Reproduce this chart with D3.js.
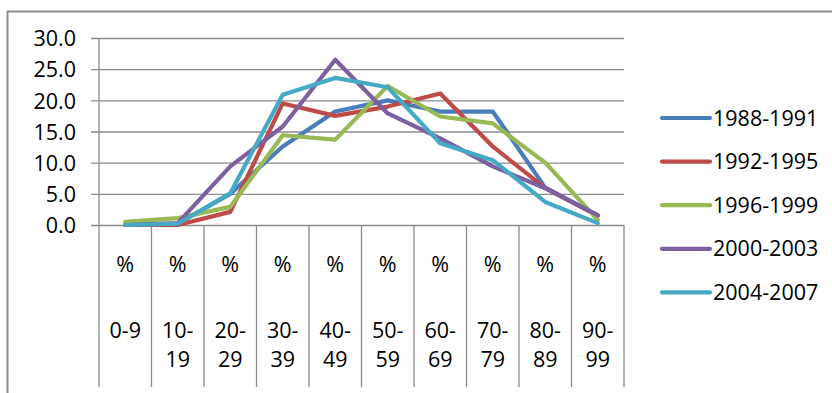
<!DOCTYPE html>
<html>
<head>
<meta charset="utf-8">
<script src="https://cdn.jsdelivr.net/npm/d3@7"></script>
<style>
  html, body { margin: 0; padding: 0; background: #fff; }
  svg { display: block; }
  text { font-family: "Open Sans", "Liberation Sans", sans-serif; fill: #000; }
</style>
</head>
<body>
<svg id="chart" width="832" height="393"></svg>
<script>
// Age-group brackets on the x axis
const categories = ["0-9", "10-19", "20-29", "30-39", "40-49", "50-59", "60-69", "70-79", "80-89", "90-99"];

// Share of cases (%) per age group, one array per period
const s1988 = [0.0, 0.2, 5.0, 12.6, 18.2, 20.0, 18.2, 18.2, 6.0, 1.5];
const s1992 = [0.0, 0.0, 2.1, 19.5, 17.5, 19.0, 21.1, 12.6, 5.9, 1.5];
const s1996 = [0.5, 1.1, 2.9, 14.4, 13.7, 22.3, 17.4, 16.3, 10.0, 0.8];
const s2000 = [0.0, 0.3, 9.4, 15.8, 26.5, 17.9, 13.9, 9.4, 5.9, 1.6];
const s2004 = [0.0, 0.2, 5.1, 20.9, 23.6, 22.1, 13.1, 10.4, 3.7, 0.3];

const seriesNames = ["1988-1991", "1992-1995", "1996-1999", "2000-2003", "2004-2007"];
const seriesValues = [s1988, s1992, s1996, s2000, s2004];
const seriesColors = ["#4a7ebb", "#be4b48", "#98b954", "#7d60a0", "#46aac5"];

const yTicks = [0, 5, 10, 15, 20, 25, 30];

const svg = d3.select("#chart");
const gridColor = "#8c8c8c";
const fontSize = "21.5px";

// Outer chart frame
svg.append("rect")
  .attr("x", 7.5).attr("y", 11.5)
  .attr("width", 840).attr("height", 400)
  .attr("fill", "none").attr("stroke", "#8c8c8c").attr("stroke-width", 2);

const plot = { left: 99, right: 624, top: 38, bottom: 225 };

const x = d3.scaleBand().domain(categories).range([plot.left, plot.right]).padding(0);
const y = d3.scaleLinear().domain([0, 30]).range([plot.bottom, plot.top]);

// Horizontal gridlines with left tick marks and labels
const yAxis = d3.axisLeft(y)
  .tickValues(yTicks)
  .tickFormat(d3.format(".1f"))
  .tickSize(-(plot.right - plot.left))
  .tickPadding(23);

const gy = svg.append("g")
  .attr("transform", `translate(${plot.left},0)`)
  .call(yAxis);
gy.select(".domain").remove();
gy.selectAll(".tick line")
  .attr("x1", -8)
  .attr("stroke", gridColor).attr("stroke-width", 1.3);
gy.selectAll(".tick text")
  .style("font-size", fontSize)
  .attr("dy", "0.36em");

// Vertical category dividers running down through the label area
const bounds = categories.map(c => x(c)).concat([plot.right]);
svg.append("g").selectAll("line")
  .data(bounds)
  .join("line")
  .attr("x1", d => d).attr("x2", d => d)
  .attr("y1", d => d === plot.left ? plot.top : plot.bottom)
  .attr("y2", 387)
  .attr("stroke", gridColor).attr("stroke-width", 1.3);

// Category labels: "%" on top, age range split across two lines below
const labels = svg.append("g").selectAll("g")
  .data(categories)
  .join("g")
  .attr("transform", c => `translate(${x(c) + x.bandwidth() / 2},0)`);

labels.append("text")
  .attr("y", 272).attr("text-anchor", "middle")
  .style("font-size", fontSize)
  .text("%");

labels.each(function (c) {
  const cut = c.indexOf("-");
  const parts = c.length > 3 ? [c.slice(0, cut + 1), c.slice(cut + 1)] : [c];
  const g = d3.select(this);
  parts.forEach((p, i) => {
    g.append("text")
      .attr("y", 338 + i * 29)
      .attr("text-anchor", "middle")
      .style("font-size", fontSize)
      .text(p);
  });
});

// Series lines
const line = d3.line()
  .x((d, i) => x(categories[i]) + x.bandwidth() / 2)
  .y(d => y(d));

svg.append("g").selectAll("path")
  .data(seriesValues)
  .join("path")
  .attr("d", d => line(d))
  .attr("fill", "none")
  .attr("stroke", (d, i) => seriesColors[i])
  .attr("stroke-width", 4.2)
  .attr("stroke-linejoin", "round")
  .attr("stroke-linecap", "round");

// Legend
const legend = svg.append("g").selectAll("g")
  .data(seriesNames)
  .join("g")
  .attr("transform", (d, i) => `translate(660,${118 + i * 43.6})`);

legend.append("line")
  .attr("x1", 2).attr("x2", 50)
  .attr("stroke", (d, i) => seriesColors[i])
  .attr("stroke-width", 4.2)
  .attr("stroke-linecap", "round");

legend.append("text")
  .attr("x", 53).attr("y", 7.5)
  .style("font-size", fontSize)
  .text(d => d);
</script>
</body>
</html>
